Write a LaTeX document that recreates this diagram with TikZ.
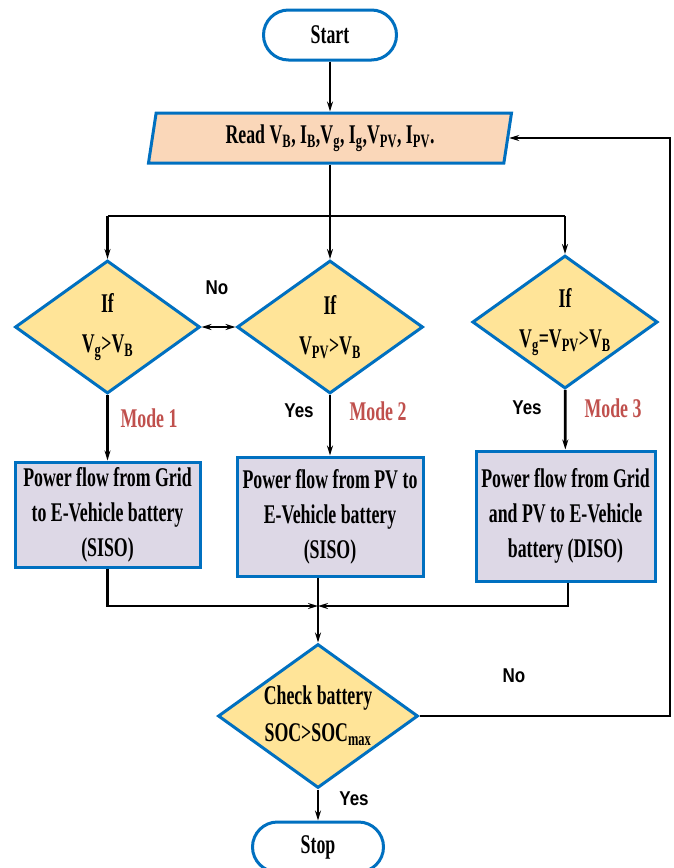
\documentclass[tikz,border=0pt]{standalone}
\usepackage{fontspec}
\setmainfont{Liberation Serif}[FakeStretch=0.66]
\newfontfamily\labfont{Liberation Sans}[FakeStretch=0.85]
\usetikzlibrary{shapes.geometric,arrows.meta}
\definecolor{bord}{RGB}{0,112,192}
\definecolor{peach}{RGB}{250,215,185}
\definecolor{dia}{RGB}{255,228,152}
\definecolor{lav}{RGB}{221,216,230}
\definecolor{moder}{RGB}{192,80,77}
\begin{document}
\begin{tikzpicture}[x=1pt,y=-1pt,
  every node/.style={font=\fontsize{27}{35}\selectfont\bfseries},
  term/.style={draw=bord,line width=3pt,fill=white,rounded corners=25pt,minimum width=133pt,minimum height=50pt,inner sep=0pt},
  io/.style={trapezium,trapezium left angle=74,trapezium right angle=106,trapezium stretches body,draw=bord,fill=peach,line width=3pt,minimum height=50pt,minimum width=363pt,inner sep=0pt},
  dec/.style={diamond,aspect=1.4,draw=bord,fill=dia,line width=3pt,inner sep=0pt,align=center,font=\fontsize{27}{40}\selectfont\bfseries},
  proc/.style={rectangle,draw=bord,fill=lav,line width=3pt,inner sep=0pt,align=center},
  lbl/.style={font=\labfont\fontsize{20}{24}\selectfont\bfseries},
  mode/.style={text=moder},
  conn/.style={line width=2.8pt,draw=black},
  arr/.style={conn,-{Stealth[length=10pt,width=6pt]}}
]
\clip (0,0) rectangle (674,868);
\fill[white] (0,0) rectangle (674,868);

\node[term] (start) at (330,35) {Start};
\node[io] (read) at (330,138) {Read V\textsubscript{B}, I\textsubscript{B},V\textsubscript{g}, I\textsubscript{g},V\textsubscript{PV}, I\textsubscript{PV}.};

\node[dec,minimum width=185pt,minimum height=133pt] (d1) at (107.5,327) {If\\V\textsubscript{g}>V\textsubscript{B}};
\node[dec,minimum width=186pt,minimum height=133pt] (d2) at (330,327) {If\\V\textsubscript{PV}>V\textsubscript{B}};
\node[dec,minimum width=184pt,minimum height=133pt] (d3) at (565,322) {If\\V\textsubscript{g}=V\textsubscript{PV}>V\textsubscript{B}};

\node[proc,minimum width=185pt,minimum height=105pt] (b1) at (107.5,514.5) {Power flow from Grid\\to E-Vehicle battery\\(SISO)};
\node[proc,minimum width=186pt,minimum height=119pt] (b2) at (330,516.5) {Power flow from PV to\\E-Vehicle battery\\(SISO)};
\node[proc,minimum width=179pt,minimum height=130pt] (b3) at (565.5,516) {Power flow from Grid\\and PV to E-Vehicle\\battery (DISO)};

\node[dec,minimum width=200pt,minimum height=144pt,font=\fontsize{27}{37}\selectfont\bfseries] (chk) at (318,716) {Check battery\\SOC>SOC\textsubscript{max}};
\node[term,minimum width=131pt] (stop) at (318,847) {Stop};

\coordinate (bus) at (330,216);
\coordinate (join) at (318,606);
\coordinate (fb) at (670,0);

% labels
\node[lbl] (no1) at (217,288) {No};
\node[mode] (m1) at (149,418) {Mode 1};
\node[lbl] (y2) at (299,411) {Yes};
\node[mode] (m2) at (378,411) {Mode 2};
\node[lbl] (y3) at (527,408) {Yes};
\node[mode] (m3) at (613,408) {Mode 3};
\node[lbl] (no2) at (514,676) {No};
\node[lbl] (y4) at (354,799) {Yes};

% connectors
\draw[arr] (start) -- (read);
\draw[conn] (read.south) -- (read.south |- bus);
\draw[conn] (d1.north |- bus) -- (d3.north |- bus);
\draw[arr] (d1.north |- bus) -- (d1.north);
\draw[arr] (d2.north |- bus) -- (d2.north);
\draw[arr] (d3.north |- bus) -- (d3.north);
\draw[conn,{Stealth[length=10pt,width=6pt]}-{Stealth[length=10pt,width=6pt]}] (d1.east) -- (d2.west);
\draw[arr] (d1) -- (b1);
\draw[arr] (d2) -- (b2);
\draw[arr] (d3) -- (b3);
\draw[arr] (b1.south) |- (join);
\draw[arr] ([xshift=2.5pt]b3.south) |- (join);
\draw[conn] (b2.south -| join) -- (join);
\draw[arr] (join) -- (chk.north);
\draw[arr] (chk.east) -- (chk.east -| fb) -- (fb |- read.east) -- (read.east);
\draw[arr] (chk) -- (stop);
\end{tikzpicture}
\end{document}
